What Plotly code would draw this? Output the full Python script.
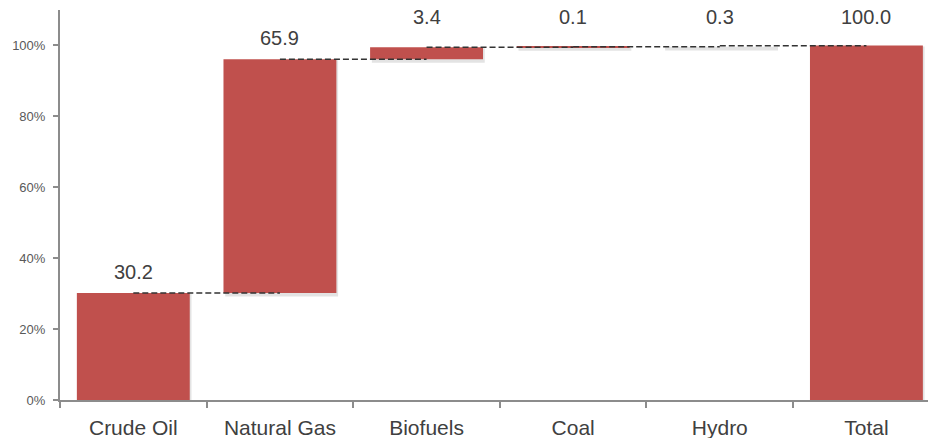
import plotly.graph_objects as go

# Energy mix contributions (% of total)
categories = ["Crude Oil", "Natural Gas", "Biofuels", "Coal", "Hydro", "Total"]
contributions = [30.2, 65.9, 3.4, 0.1, 0.3]
total_value = 100.0
y_tick_values = [0, 20, 40, 60, 80, 100]
y_tick_labels = ["0%", "20%", "40%", "60%", "80%", "100%"]

BAR_RED = "#C0504D"
TEXT_GREY = "#404040"
AXIS_GREY = "#8C8C8C"
FONT = "Arial, Liberation Sans, sans-serif"
BAR_WIDTH = 0.77

# Floating bases for the waterfall steps, then the total bar from zero
bases, tops = [], []
running = 0.0
for v in contributions:
    bases.append(running)
    running += v
    tops.append(running)
bases.append(0.0)
tops.append(total_value)
heights = [t - b for b, t in zip(bases, tops)]
values = contributions + [total_value]

# Hydro step is drawn without fill (only its shadow shows)
colors = [BAR_RED] * len(categories)
colors[categories.index("Hydro")] = "rgba(0,0,0,0)"

fig = go.Figure()

# soft drop shadow underneath each bar
fig.add_trace(go.Bar(
    x=categories,
    y=[h + 0.7 for h in heights],
    base=[b - 1.0 for b in bases],
    width=BAR_WIDTH,
    offset=-BAR_WIDTH / 2 + 0.012,
    marker=dict(color="rgba(0,0,0,0.11)", line=dict(width=0)),
    hoverinfo="skip",
    showlegend=False,
))

fig.add_trace(go.Bar(
    x=categories,
    y=heights,
    base=bases,
    width=BAR_WIDTH,
    marker=dict(color=colors, line=dict(width=0)),
    showlegend=False,
))

# dashed connectors from the centre of one bar to the centre of the next
levels = tops[:-1]
for i, lvl in enumerate(levels):
    fig.add_trace(go.Scatter(
        x=[categories[i], categories[i + 1]],
        y=[lvl, lvl],
        mode="lines",
        line=dict(color="#333333", width=1.5, dash="6px,3px"),
        hoverinfo="skip",
        showlegend=False,
    ))

# value labels; those crowding the 100% line sit on a shared row
LABEL_ROW = 108.0
for cat, top, val in zip(categories, tops, values):
    y_lbl = top + 6.0 if top < 99.0 else LABEL_ROW
    fig.add_annotation(
        x=cat, y=y_lbl, text=f"{val:.1f}", showarrow=False,
        xanchor="center", yanchor="middle",
        font=dict(family=FONT, size=20, color=TEXT_GREY),
    )

fig.update_layout(
    width=928, height=438,
    margin=dict(l=60, r=0, t=10, b=38),
    paper_bgcolor="white", plot_bgcolor="white",
    barmode="overlay",
    font=dict(family=FONT, color=TEXT_GREY),
)
fig.update_xaxes(
    type="category",
    range=[-0.5, 5.42],
    showline=True, linecolor=AXIS_GREY, linewidth=2,
    ticks="outside", tickson="boundaries", ticklen=6, tickwidth=2, tickcolor=AXIS_GREY,
    tickfont=dict(family=FONT, size=21, color=TEXT_GREY),
    ticklabelstandoff=8,
    showgrid=False, zeroline=False,
)
fig.update_yaxes(
    range=[0, 110],
    tickvals=y_tick_values, ticktext=y_tick_labels,
    showline=True, linecolor=AXIS_GREY, linewidth=2,
    ticks="outside", ticklen=5, tickwidth=2, tickcolor=AXIS_GREY,
    tickfont=dict(family=FONT, size=13, color="#595959"),
    ticklabelstandoff=5,
    showgrid=False, zeroline=False,
)

fig.write_html("out.html")
